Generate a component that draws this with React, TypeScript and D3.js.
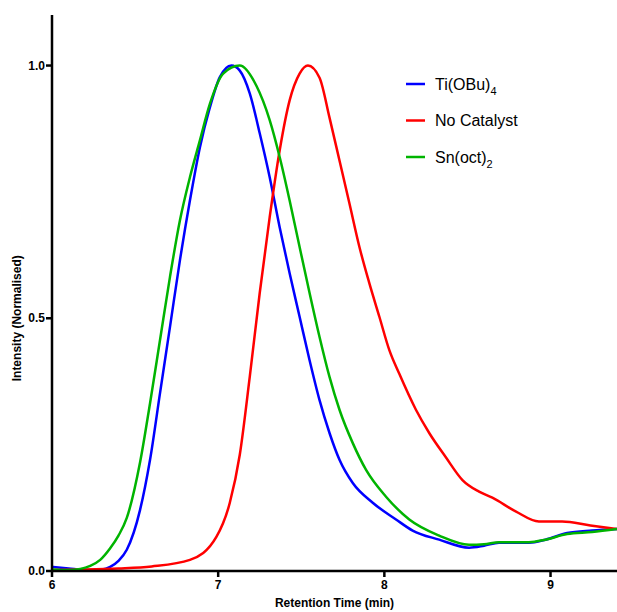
import * as d3 from "d3";

// retention time (min) and normalised intensity
const tiX = [6.0, 6.1, 6.2, 6.3, 6.35, 6.4, 6.45, 6.53, 6.59, 6.65, 6.71, 6.77, 6.83, 6.89, 6.95, 7.01, 7.08, 7.13, 7.19, 7.25, 7.31, 7.37, 7.43, 7.49, 7.55, 7.61, 7.67, 7.73, 7.81, 7.93, 8.07, 8.17, 8.33, 8.51, 8.6, 8.69, 8.87, 8.97, 9.1, 9.25, 9.4];
const tiY = [0.008, 0.005, 0.002, 0.003, 0.008, 0.02, 0.042, 0.121, 0.22, 0.352, 0.483, 0.615, 0.733, 0.838, 0.917, 0.977, 1.0, 0.99, 0.945, 0.866, 0.779, 0.68, 0.589, 0.503, 0.417, 0.338, 0.273, 0.22, 0.174, 0.135, 0.102, 0.08, 0.062, 0.046, 0.05, 0.056, 0.056, 0.062, 0.075, 0.08, 0.083];

const noX = [6.0, 6.2, 6.4, 6.6, 6.83, 6.99, 7.07, 7.13, 7.19, 7.25, 7.31, 7.37, 7.43, 7.49, 7.54, 7.61, 7.67, 7.73, 7.79, 7.85, 7.91, 7.97, 8.03, 8.09, 8.19, 8.27, 8.37, 8.47, 8.57, 8.65, 8.79, 8.93, 9.07, 9.24, 9.4];
const noY = [0.002, 0.003, 0.005, 0.009, 0.022, 0.068, 0.135, 0.23, 0.384, 0.55, 0.7, 0.832, 0.931, 0.984, 1.0, 0.976, 0.897, 0.812, 0.727, 0.641, 0.569, 0.503, 0.437, 0.39, 0.319, 0.273, 0.225, 0.18, 0.157, 0.145, 0.118, 0.098, 0.098, 0.09, 0.083];

const snX = [6.0, 6.1, 6.17, 6.23, 6.29, 6.35, 6.4, 6.45, 6.53, 6.59, 6.65, 6.71, 6.77, 6.83, 6.89, 6.95, 7.03, 7.13, 7.23, 7.31, 7.37, 7.43, 7.49, 7.55, 7.61, 7.67, 7.73, 7.81, 7.89, 8.01, 8.15, 8.33, 8.51, 8.6, 8.69, 8.87, 8.97, 9.1, 9.25, 9.4];
const snY = [0.003, 0.002, 0.004, 0.01, 0.022, 0.045, 0.07, 0.105, 0.215, 0.332, 0.457, 0.582, 0.694, 0.779, 0.852, 0.924, 0.984, 1.0, 0.96, 0.892, 0.819, 0.733, 0.641, 0.55, 0.463, 0.384, 0.319, 0.253, 0.2, 0.147, 0.102, 0.07, 0.052, 0.053, 0.057, 0.057, 0.062, 0.073, 0.077, 0.083];

const xTicks = [6, 7, 8, 9];
const yTicks = [0, 0.5, 1.0];

const series = [
  { name: "Ti(OBu)", sub: "4", color: "#0000ff", xs: tiX, ys: tiY },
  { name: "No Catalyst", sub: "", color: "#ff0000", xs: noX, ys: noY },
  { name: "Sn(oct)", sub: "2", color: "#00b400", xs: snX, ys: snY },
];

const width = 617;
const height = 612;
const margin = { top: 15, right: 0, bottom: 41, left: 52 };

export default function App() {
  const x = d3.scaleLinear([6, 9.4], [margin.left, width - margin.right]);
  const y = d3.scaleLinear([0, 1.1], [height - margin.bottom, margin.top]);
  const y0 = y(0);

  const line = d3
    .line<[number, number]>()
    .x((d) => x(d[0]))
    .y((d) => y(d[1]))
    .curve(d3.curveMonotoneX);

  const font = "Liberation Sans, Arial, sans-serif";

  return (
    <svg
      width={width}
      height={height}
      style={{ position: "absolute", left: 0, top: 0, background: "#fff" }}
      fontFamily={font}
    >
      {/* curves */}
      {series.map((s) => (
        <path
          key={s.name}
          d={line(s.xs.map((v, i) => [v, s.ys[i]]) as [number, number][]) || ""}
          fill="none"
          stroke={s.color}
          strokeWidth={2.5}
          strokeLinejoin="round"
        />
      ))}

      {/* axes */}
      <line x1={margin.left} x2={margin.left} y1={margin.top} y2={y0 + 1} stroke="#000" strokeWidth={2.5} />
      <line x1={margin.left - 1} x2={width} y1={y0} y2={y0} stroke="#000" strokeWidth={2.5} />

      {yTicks.map((t) => (
        <g key={t}>
          <line x1={margin.left - 6} x2={margin.left} y1={y(t)} y2={y(t)} stroke="#000" strokeWidth={2.5} />
          <text x={margin.left - 7} y={y(t)} dy="0.35em" textAnchor="end" fontSize={12} fontWeight="bold">
            {t.toFixed(1)}
          </text>
        </g>
      ))}

      {xTicks.map((t) => (
        <g key={t}>
          <line x1={x(t)} x2={x(t)} y1={y0} y2={y0 + 6} stroke="#000" strokeWidth={2.5} />
          <text x={x(t)} y={589} textAnchor="middle" fontSize={12} fontWeight="bold">
            {t}
          </text>
        </g>
      ))}

      <text x={(margin.left + width) / 2} y={607} textAnchor="middle" fontSize={12} fontWeight="bold">
        Retention Time (min)
      </text>
      <text
        transform={`translate(21, ${y(0.5)}) rotate(-90)`}
        textAnchor="middle"
        fontSize={12}
        fontWeight="bold"
      >
        Intensity (Normalised)
      </text>

      {/* legend */}
      {series.map((s, i) => {
        const ly = 84 + i * 36.5;
        return (
          <g key={s.name}>
            <line x1={406} x2={425} y1={ly} y2={ly} stroke={s.color} strokeWidth={2.5} />
            <text x={435} y={ly} dy="0.35em" fontSize={16}>
              {s.name}
              {s.sub && (
                <tspan fontSize={11} dy={5}>
                  {s.sub}
                </tspan>
              )}
            </text>
          </g>
        );
      })}
    </svg>
  );
}
